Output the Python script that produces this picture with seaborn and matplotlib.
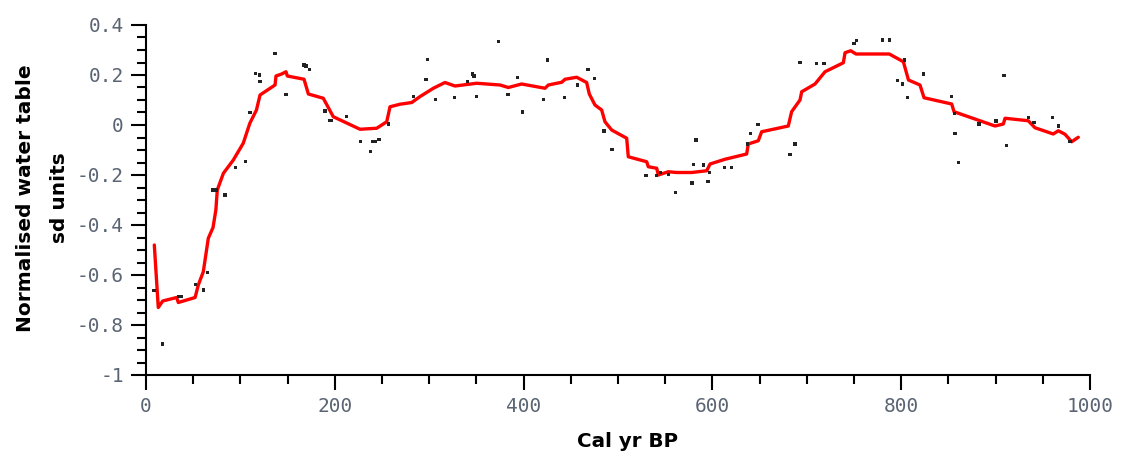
import matplotlib
matplotlib.use("Agg")
import matplotlib.pyplot as plt
import seaborn as sns
import pandas as pd
from matplotlib.ticker import MultipleLocator, FixedLocator

# ---- data ----
line_x = [8.8, 13, 17.7, 32.5, 34.2, 52, 55.4, 60.7, 66, 71, 74, 75.5, 82, 92.5, 103,
          110, 117, 120.8, 136.7, 137.7, 143.7, 148.3, 149.7, 167.4, 172, 187.8, 198.4,
          226.7, 244.4, 255, 258.5, 269, 281.5, 290, 304.4, 316.7, 327.3, 350.3, 375,
          383.8, 397.9, 422.7, 426.2, 440.4, 443.9, 456.2, 466.8, 469.6, 475.6, 482.7,
          486.2, 493.3, 509.2, 510.9, 530.4, 532.1, 541, 542.7, 553.3, 562.2, 578, 594,
          597.5, 613.4, 636.3, 638, 648.6, 652.2, 680.4, 683.9, 692.8, 694.6, 708.7,
          719.3, 738.7, 740.5, 746.5, 752.1, 787.4, 802.3, 807.7, 819.9, 824.2, 853.5,
          856, 899.4, 908.2, 910, 934.6, 941.7, 961.1, 966.4, 973.5, 980.6, 987.6]
line_y = [-0.48, -0.73, -0.704, -0.69, -0.71, -0.69, -0.64, -0.587, -0.453, -0.41,
          -0.34, -0.26, -0.193, -0.14, -0.073, 0.007, 0.06, 0.12, 0.16, 0.196, 0.204,
          0.213, 0.196, 0.183, 0.124, 0.107, 0.033, -0.017, -0.013, 0.013, 0.073, 0.083,
          0.09, 0.113, 0.147, 0.17, 0.156, 0.167, 0.16, 0.15, 0.164, 0.147, 0.16, 0.171,
          0.183, 0.191, 0.17, 0.124, 0.08, 0.06, 0.013, -0.02, -0.053, -0.127, -0.147,
          -0.167, -0.173, -0.2, -0.187, -0.19, -0.19, -0.183, -0.156, -0.137, -0.116,
          -0.076, -0.063, -0.027, -0.004, 0.053, 0.1, 0.133, 0.164, 0.213, 0.249, 0.289,
          0.297, 0.284, 0.284, 0.253, 0.18, 0.16, 0.109, 0.084, 0.053, -0.004, 0.004,
          0.027, 0.017, -0.011, -0.036, -0.023, -0.037, -0.067, -0.049]

dot_x = [8.5, 17.7, 34.2, 37.8, 52, 60.7, 65, 71, 75, 83.7, 95, 105.6, 110.2, 116.2, 120,
         120.8, 136.7, 148.3, 167.4, 169.5, 173, 189.6, 194.2, 196.7, 212.6, 227.4, 238,
         240.1, 242.6, 246.8, 256.7, 283.2, 296.6, 298.4, 306.9, 326.6, 340.7, 346, 347.5,
         350.3, 373.2, 383.5, 393.3, 398.6, 420.9, 425.5, 443.1, 457.3, 468.2, 475, 485.2,
         493.6, 529.7, 541, 545.2, 553.3, 560.7, 578.4, 579.8, 582.6, 590.4, 595.3, 596.7,
         612.6, 620.4, 637.4, 640, 648.3, 682.2, 687.5, 692.8, 710.5, 718.2, 750, 752.8,
         780.3, 787.4, 796.2, 801.5, 803.3, 806.5, 823.4, 853.5, 856, 857, 860.5, 882.4,
         900.4, 908.9, 911.7, 934.6, 940.7, 960.5, 966.4, 978.8]
dot_y = [-0.663, -0.876, -0.687, -0.687, -0.637, -0.66, -0.59, -0.26, -0.26, -0.28, -0.17,
         -0.147, 0.051, 0.207, 0.2, 0.173, 0.287, 0.123, 0.24, 0.236, 0.223, 0.056, 0.017,
         0.017, 0.033, -0.067, -0.107, -0.067, -0.067, -0.057, 0.004, 0.113, 0.183, 0.263,
         0.103, 0.111, 0.173, 0.204, 0.196, 0.113, 0.333, 0.123, 0.191, 0.052, 0.103, 0.26,
         0.109, 0.16, 0.223, 0.185, -0.024, -0.097, -0.203, -0.203, -0.189, -0.197, -0.271,
         -0.232, -0.157, -0.06, -0.16, -0.227, -0.189, -0.169, -0.169, -0.076, -0.035, 0.003,
         -0.117, -0.076, 0.249, 0.247, 0.247, 0.327, 0.337, 0.34, 0.34, 0.177, 0.164, 0.26,
         0.111, 0.204, 0.113, 0.047, -0.033, -0.151, 0.004, 0.016, 0.199, -0.081, 0.031,
         0.011, 0.031, -0.004, -0.067]

x_ticks = [0, 200, 400, 600, 800, 1000]
x_tick_labels = ["0", "200", "400", "600", "800", "1000"]
y_ticks = [0.4, 0.2, 0, -0.2, -0.4, -0.6, -0.8, -1]
y_tick_labels = ["0.4", "0.2", "0", "-0.2", "-0.4", "-0.6", "-0.8", "-1"]

x_label = "Cal yr BP"
y_label = "Normalised water table\nsd units"

line_df = pd.DataFrame({"age": line_x, "wt": line_y})
dot_df = pd.DataFrame({"age": dot_x, "wt": dot_y})

# ---- style ----
sns.set_theme(style="ticks")
plt.rcParams["font.family"] = ["DejaVu Sans"]

fig = plt.figure(figsize=(11.26, 4.57), dpi=100)
ax = fig.add_axes([146 / 1126, 1 - 375 / 457, (1090 - 146) / 1126, 350 / 457])

sns.scatterplot(data=dot_df, x="age", y="wt", ax=ax, marker="s", s=5,
                color="#222222", edgecolor="none", linewidth=0, zorder=3)
sns.lineplot(data=line_df, x="age", y="wt", ax=ax, sort=False, color="#ff0000",
             linewidth=2.4, zorder=2, estimator=None)

ax.set_xlim(0, 1000)
ax.set_ylim(-1, 0.4)
ax.xaxis.set_major_locator(FixedLocator(x_ticks))
ax.set_xticklabels(x_tick_labels)
ax.xaxis.set_minor_locator(MultipleLocator(50))
ax.yaxis.set_major_locator(FixedLocator(y_ticks))
ax.set_yticklabels(y_tick_labels)
ax.yaxis.set_minor_locator(MultipleLocator(0.05))

tick_color = "#5a6473"
for lab in ax.get_xticklabels() + ax.get_yticklabels():
    lab.set_fontfamily("DejaVu Sans Mono")
    lab.set_fontsize(14)
    lab.set_color(tick_color)

ax.tick_params(axis="both", which="major", direction="out", length=11, width=1.5,
               color="black", pad=5)
ax.tick_params(axis="both", which="minor", direction="out", length=6.5, width=1.5,
               color="black")

for side in ["top", "right"]:
    ax.spines[side].set_visible(False)
for side in ["left", "bottom"]:
    ax.spines[side].set_linewidth(1.5)
    ax.spines[side].set_color("black")

ax.set_xlabel(x_label, fontsize=14.3, fontweight="bold", color="black")
ax.set_ylabel(y_label, fontsize=14.5, fontweight="bold", color="black",
              linespacing=2.0)
ax.xaxis.set_label_coords((628 - 146) / (1090 - 146), -(432 - 375) / 350)
ax.yaxis.set_label_coords(-(146 - 69) / (1090 - 146), (375 - 198) / 350)

fig.savefig("out.png", dpi=100)
